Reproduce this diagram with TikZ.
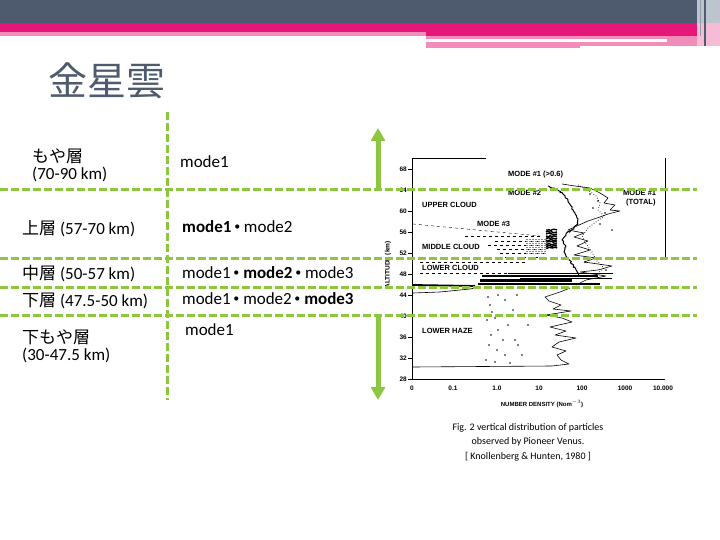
\documentclass[tikz,border=0pt]{standalone}
\usepackage{fontspec}
\setmainfont{Carlito}
\newfontfamily\jpfont{Noto Sans CJK JP}
\newfontfamily\plotfont{Liberation Sans}
\usepackage{tikz}
\usetikzlibrary{positioning,arrows.meta,decorations.pathmorphing}
\definecolor{VSlate}{HTML}{4E5B6E}
\definecolor{VMagenta}{HTML}{E5187A}
\definecolor{VPink}{HTML}{F08DB9}
\definecolor{VGrey}{HTML}{BDC4CD}
\definecolor{VGreen}{HTML}{8DC63F}
\tikzset{
  layerlbl/.style={anchor=west, inner sep=0pt, font=\fontsize{17}{20}\selectfont, text=black},
  modelbl/.style={anchor=west, inner sep=0pt, font=\fontsize{17}{20}\selectfont, text=black},
  dashln/.style={draw=VGreen, line width=3pt, dash pattern=on 8pt off 3pt},
  altarr/.style={-{Triangle[length=13pt,width=14pt]}, draw=VGreen, line width=5pt},
  plotlbl/.style={anchor=west, inner sep=0pt, font=\plotfont\bfseries\fontsize{7.5}{8}\selectfont},
  ticklbl/.style={inner sep=0pt, font=\plotfont\bfseries\fontsize{6.5}{7}\selectfont},
  curve/.style={draw=black, line width=0.6pt, line join=round},
  noisy/.style={curve, line width=1pt, decorate, decoration={random steps, segment length=1.5pt, amplitude=0.8pt}},
  thinmode/.style={curve, dashed, line width=0.4pt}
}
\newcommand{\mdot}{\raisebox{-4pt}{\jpfont\fontsize{25}{20}\selectfont ･}}

\begin{document}
\begin{tikzpicture}[x=1pt, y=-1pt]
\useasboundingbox (0,0) rectangle (720,540);
\fill[white] (0,0) rectangle (720,540);
\fill[VSlate] (0,0) rectangle (720,23);
\fill[VMagenta] (0,23) rectangle (720,36);
\fill[VPink] (0,32) rectangle (426,36);
\fill[VPink] (426,36) rectangle (697,39);
\fill[VPink] (426,42) rectangle (580,48);
\fill[VPink] (580,42) rectangle (697,46);
\fill[VPink] (667,36) rectangle (697,46);
\fill[VGrey] (697,0) rectangle (720,23);
\fill[VPink!60] (697,23) rectangle (720,46);
\draw[VSlate, line width=1.5pt] (705,0) -- (705,46);
\draw[VSlate!60, line width=0.8pt] (700,0) -- (700,36);

\node[anchor=west, inner sep=0pt, font=\jpfont\fontsize{39}{42}\selectfont, text=VSlate] (title) at (48,81) {金星雲};

\node[layerlbl] (haze) at (32,156) {\jpfont もや層};
\node[layerlbl, below right=3pt and 0pt of haze.south west] (hazekm) {(70-90 km)};
\node[layerlbl] (upper) at (22,229) {{\jpfont 上層} (57-70 km)};
\node[layerlbl] (middle) at (22,274) {{\jpfont 中層} (50-57 km)};
\node[layerlbl] (lower) at (22,301) {{\jpfont 下層} (47.5-50 km)};
\node[layerlbl] (lowhaze) at (22,337) {\jpfont 下もや層};
\node[layerlbl, below right=3pt and 0pt of lowhaze.south west] (lowhazekm) {(30-47.5 km)};

\node[modelbl] (hazemode) at (180,162) {mode1};
\node[modelbl] (uppermode) at (182,229) {\textbf{mode1}\mdot mode2};
\node[modelbl] (middlemode) at (182,275) {mode1\mdot\textbf{mode2}\mdot mode3};
\node[modelbl] (lowermode) at (182,301) {mode1\mdot mode2\mdot\textbf{mode3}};
\node[modelbl] (lowhazemode) at (185,330) {mode1};

\draw[line width=0.6pt] (486,158) -- (412,158) -- (412,379) -- (665,379);
\draw[line width=0.6pt] (665,158) -- (665,258);
\foreach \v in {28,32,...,68} {
  \pgfmathsetmacro\yy{379-(\v-28)*5.25}
  \draw[line width=0.6pt] (408,\yy) -- (412,\yy);
  \node[ticklbl, anchor=east] at (407,\yy) {\v};
}
\foreach \xx/\t in {412/0, 453/0.1, 497/1.0, 539/10, 582/100, 625/1000, 663/10.000}
  \node[ticklbl] at (\xx,388) {\t};
\node[ticklbl, rotate=90] (alttitle) at (388,265) {ALTITUDE (km)};
\node[ticklbl, font=\plotfont\bfseries\fontsize{6}{7}\selectfont] (ndtitle) at (542,404) {NUMBER DENSITY (Nom$^{-3}$)};

\node[plotlbl] (ucloud) at (422,205) {UPPER CLOUD};
\node[plotlbl] (mcloud) at (422,247) {MIDDLE CLOUD};
\node[plotlbl] (lcloud) at (422,268) {LOWER CLOUD};
\node[plotlbl] (lhaze) at (422,331) {LOWER HAZE};
\node[plotlbl] (modethree) at (477,224) {MODE \#3};
\node[plotlbl] (modeonebig) at (508,175) {MODE \#1 ({>}0.6)};
\node[plotlbl] (modetwo) at (508,193) {MODE \#2};
\node[plotlbl] (modeonetot) at (623,193) {MODE \#1};
\node[plotlbl] (total) at (626,203) {(TOTAL)};

\draw[curve] plot coordinates {(562,184) (575,186) (590,188) (600,193) (608,198) (604,203) (615,205) (610,210) (620,211) (608,214) (597,218) (588,221) (568,230) (584,233) (574,237) (588,241) (577,246) (590,250) (574,255) (596,258) (584,262) (612,266) (598,270) (580,272) (606,276) (586,280) (576,285)};
\draw[curve] plot coordinates {(570,288) (560,292) (545,297) (549,301) (561,305) (553,309) (571,311) (546,315) (562,318) (572,322) (550,327) (566,331) (555,335) (576,338) (559,342) (552,347) (566,351) (557,355) (561,360) (569,364) (552,366) (413,367)};
\draw[curve] (413,293) -- (440,292) -- (470,289) -- (480,287);
\draw[line width=1.8pt] (413,285) -- (475,286);
\draw[noisy] plot coordinates {(548,186) (556,189) (563,194) (568,200) (571,206) (574,212) (577,218) (578,224) (573,229) (566,234) (562,240) (566,246) (564,252) (568,258) (572,264) (576,270) (579,276)};
\draw[curve, dotted, line width=0.9pt] plot coordinates {(578,185) (588,190) (596,196) (600,203) (598,210) (604,216) (596,222) (588,228) (582,236) (586,244) (592,252) (596,260) (604,268) (595,276)};
\draw[thinmode] (413,224) -- (540,236);
\foreach \yy/\xa/\xb in {236/465/540, 241/495/545, 245/488/542, 249/497/546, 253/500/545, 257/505/540, 262/420/527, 273/420/540}
  \draw[thinmode] (\xa,\yy) -- (\xb,\yy);
\foreach \yy in {239,241,...,253}
  \draw[black!45, line width=0.8pt, dash pattern=on 2pt off 1pt] (526,\yy) -- (547,\yy);
\foreach \yy in {230,232,...,248}
  \draw[noisy, line width=1.4pt] (546,\yy) -- (557,\yy);
\draw[line width=1pt] (508,273) -- (613,273);
\draw[line width=2pt] (482,276) -- (598,276);
\draw[line width=1pt] (520,278) -- (612,278);
\draw[line width=3pt] (480,280) -- (572,280);
\draw[line width=1.2pt] (478,284) -- (600,284);
\foreach \px/\py in {488/297, 498/295, 517/295, 490/305, 492/312, 505/300, 513/310, 487/320, 495/318, 508/325, 498/330, 491/335, 503/340, 515/340, 489/345, 497/350, 505/355, 486/360, 495/362, 510/363, 522/355, 518/345, 528/325, 590/194, 598/201, 593/208, 605/213, 600/224, 612/230, 585/262, 606/270}
  \fill (\px,\py) circle (0.8pt);

\foreach \yy in {190,258,287,315} \draw[dashln] (0,\yy) -- (697,\yy);
\draw[dashln] (167,112) -- (167,400);

\coordinate (uptop) at (378,128);
\coordinate (upbase) at (378,190);
\coordinate (downbase) at (378,315);
\coordinate (downtip) at (378,400);
\draw[altarr] (upbase) -- (uptop);
\draw[altarr] (downbase) -- (downtip);

\node[font=\fontsize{10}{14.5}\selectfont, align=center] (caption) at (528,442) {Fig. 2 vertical distribution of particles\\observed by Pioneer Venus.\\ {[} Knollenberg \& Hunten, 1980 {]}};
\end{tikzpicture}
\end{document}
